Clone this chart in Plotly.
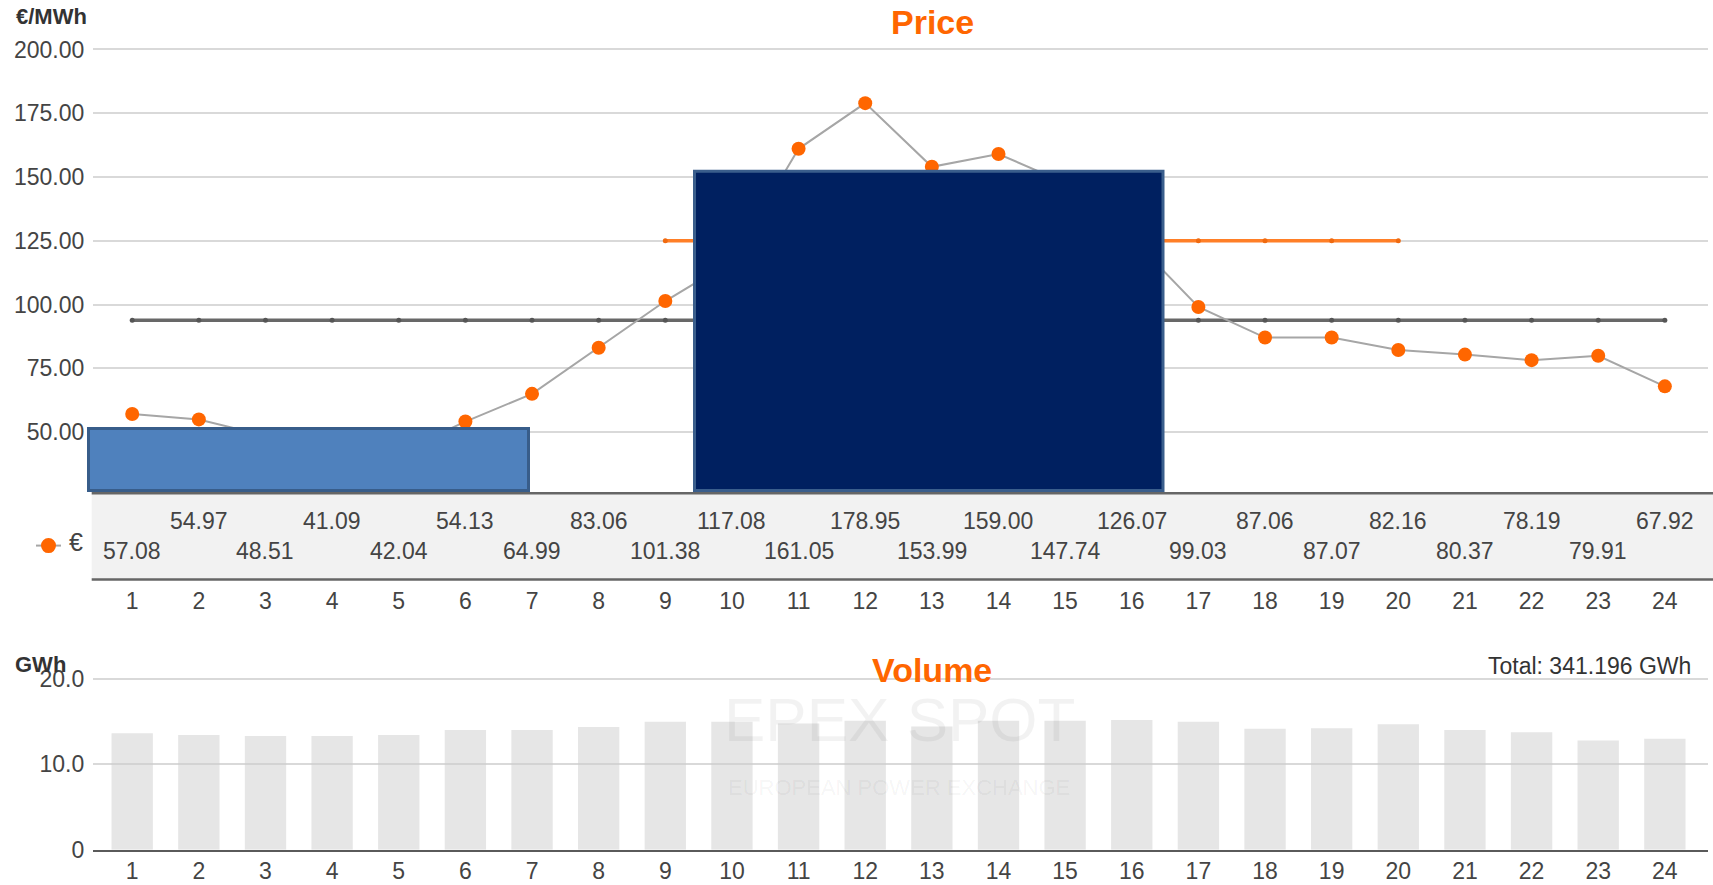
import plotly.graph_objects as go

# ---------------- data ----------------
hours = list(range(1, 25))
hour_labels = [str(h) for h in hours]
price = [57.08, 54.97, 48.51, 41.09, 42.04, 54.13, 64.99, 83.06, 101.38, 117.08,
         161.05, 178.95, 153.99, 159.00, 147.74, 126.07, 99.03, 87.06, 87.07, 82.16,
         80.37, 78.19, 79.91, 67.92]
volume = [13.65, 13.45, 13.34, 13.34, 13.45, 14.03, 14.03, 14.38, 15.0, 15.0,
          14.8, 15.1, 14.45, 15.1, 15.1, 15.2, 15.0, 14.19, 14.23, 14.7,
          14.03, 13.77, 12.8, 13.0]
base_avg = 93.87
peak_avg = 125.05
peak_hours = list(range(9, 21))
total_volume = "341.196"
price_ticks = [50, 75, 100, 125, 150, 175, 200]
volume_ticks = [0, 10, 20]
volume_ticktext = ["0", "10.0", "20.0"]

# ---------------- geometry helpers (target pixels -> paper) ----------------
W, H = 1713, 885
def px(x):
    return x / W
def py(y):
    # compensate for the vertical scaling observed in the photographed page
    y = (y - 1.37) / 0.9945
    return 1 - ((y - 6.45) / 0.981) / H

FONT = "Liberation Sans, Arial, sans-serif"
ORANGE = "#ff6600"
TXT = "#444444"
FS = 23

fig = go.Figure()

# average lines
fig.add_trace(go.Scatter(x=hours, y=[base_avg] * len(hours), mode="lines+markers",
                         line=dict(color="#686868", width=3.5),
                         marker=dict(symbol="circle", size=5, color="#555555"),
                         hoverinfo="skip", showlegend=False, xaxis="x", yaxis="y"))
fig.add_trace(go.Scatter(x=peak_hours, y=[peak_avg] * len(peak_hours), mode="lines+markers",
                         line=dict(color="#ff7f27", width=3.5),
                         marker=dict(symbol="circle", size=5, color="#f06a10"),
                         hoverinfo="skip", showlegend=False, xaxis="x", yaxis="y"))
# price line
fig.add_trace(go.Scatter(x=hours, y=price, mode="lines+markers", name="€",
                         line=dict(color="#a6a6a6", width=2),
                         marker=dict(color=ORANGE, size=14),
                         showlegend=False, xaxis="x", yaxis="y"))
# volume bars
fig.add_trace(go.Bar(x=hours, y=volume, width=0.62,
                     marker=dict(color="rgba(205,205,205,0.5)", line=dict(width=0)),
                     showlegend=False, xaxis="x2", yaxis="y2"))

xdom = [px(92.9), px(1707.5)]
xrng = [0.41, 24.64]

fig.update_layout(
    width=W, height=H,
    margin=dict(l=0, r=0, t=0, b=0),
    paper_bgcolor="white", plot_bgcolor="white",
    font=dict(family=FONT, size=FS, color=TXT),
    xaxis=dict(domain=xdom, range=xrng, anchor="free", position=py(579),
               tickvals=hours, ticktext=hour_labels, showgrid=False, zeroline=False,
               ticks="outside", ticklen=1, tickcolor="rgba(0,0,0,0)",
               tickfont=dict(size=FS, color=TXT), showline=False),
    yaxis=dict(domain=[py(492.7), py(44)],
               range=[200 - (492.7 - 49.2) / 63.73 * 25, 200 + (49.2 - 44) / 63.73 * 25],
               tickvals=price_ticks, tickformat=".2f",
               gridcolor="#d9d9d9", gridwidth=2, zeroline=False,
               ticks="outside", ticklen=3, tickcolor="rgba(0,0,0,0)",
               tickfont=dict(size=FS, color=TXT)),
    xaxis2=dict(domain=xdom, range=xrng, anchor="y2",
                tickvals=hours, ticktext=hour_labels, showgrid=False, zeroline=False,
                showline=True, linecolor="#5a5a5a", linewidth=2,
                ticks="", tickfont=dict(size=FS, color=TXT)),
    yaxis2=dict(domain=[py(848.9), py(674)], range=[0, (848.9 - 674) / 8.525], anchor="x2",
                tickvals=volume_ticks, ticktext=volume_ticktext,
                gridcolor="#d9d9d9", gridwidth=2, zeroline=False,
                ticks="outside", ticklen=3, tickcolor="rgba(0,0,0,0)",
                tickfont=dict(size=FS, color=TXT)),
)

shapes = []
# table band
shapes.append(dict(type="rect", xref="paper", yref="paper", layer="below",
                   x0=px(91.7), x1=1, y0=py(579), y1=py(492.7),
                   fillcolor="#f2f2f2", line=dict(width=0)))
shapes.append(dict(type="line", xref="paper", yref="paper", layer="above",
                   x0=px(91.7), x1=1, y0=py(492.7), y1=py(492.7),
                   line=dict(color="#666666", width=2.5)))
shapes.append(dict(type="line", xref="paper", yref="paper", layer="above",
                   x0=px(91.7), x1=1, y0=py(579), y1=py(579),
                   line=dict(color="#666666", width=2.5)))
# legend symbol
shapes.append(dict(type="line", xref="paper", yref="paper",
                   x0=px(36), x1=px(61), y0=py(545), y1=py(545),
                   line=dict(color="#a6a6a6", width=2)))
shapes.append(dict(type="circle", xref="paper", yref="paper",
                   x0=px(41), x1=px(56), y0=py(552.5), y1=py(537.5),
                   fillcolor=ORANGE, line=dict(width=0)))
# overlay boxes
shapes.append(dict(type="rect", xref="paper", yref="paper", layer="above",
                   x0=px(88.5), x1=px(528.5), y0=py(490), y1=py(428),
                   fillcolor="#4f81bd", line=dict(color="#385d8a", width=3)))
shapes.append(dict(type="rect", xref="paper", yref="paper", layer="above",
                   x0=px(694.5), x1=px(1163), y0=py(490), y1=py(171),
                   fillcolor="#002060", line=dict(color="#3a5e8c", width=3)))
fig.update_layout(shapes=shapes)

def note(text, x, y, size, color, xanchor="center", xref="paper"):
    return dict(text=text, x=x, y=py(y), xref=xref, yref="paper", xanchor=xanchor,
                yanchor="middle", showarrow=False,
                font=dict(size=size, color=color, family=FONT))

ann = []
ann.append(note("<b>Price</b>", px(932), 22, 34, ORANGE))
ann.append(note("<b>Volume</b>", px(932), 669, 34, ORANGE))
ann.append(note("<b>€/MWh</b>", px(14), 16, 22, "#333333", "left"))
ann.append(note("<b>GWh</b>", px(13), 664, 22, "#333333", "left"))
ann.append(note("Total: " + total_volume + " GWh", px(1693), 665, FS, "#333333", "right"))
ann.append(note("€", px(67), 541, 25, TXT, "left"))
# watermark
ann.append(note("EPEX SPOT", px(899), 719, 62, "rgba(0,0,0,0.05)"))
ann.append(note("EUROPEAN POWER EXCHANGE", px(899), 787, 22, "rgba(0,0,0,0.05)"))
# table values (alternating rows)
for h, v in zip(hours, price):
    row_y = 520 if h % 2 == 0 else 550
    ann.append(note(f"{v:.2f}", h, row_y, FS, TXT, "center", "x"))
fig.update_layout(annotations=ann)

fig.write_html("out.html")
